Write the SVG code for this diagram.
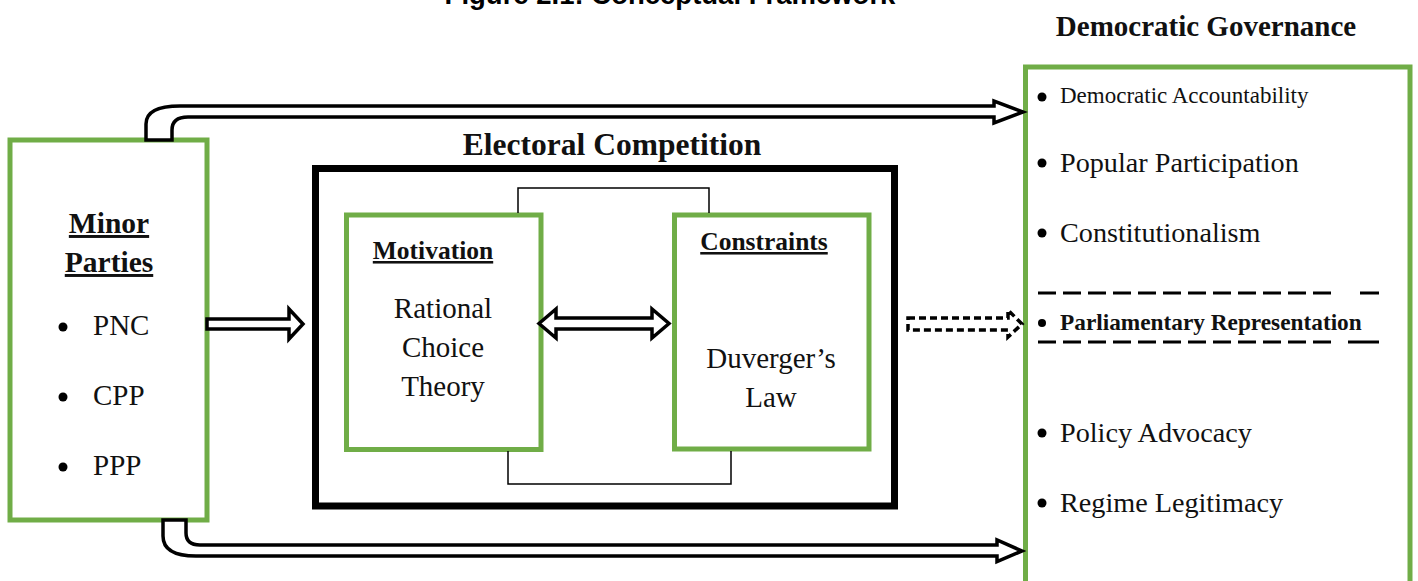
<svg xmlns="http://www.w3.org/2000/svg" width="1418" height="581" viewBox="0 0 1418 581">
<style>
.g{fill:#fff;stroke:#70AD47;stroke-width:5}
.serif{font-family:"Liberation Serif","Times New Roman",serif;fill:#111}
.b{font-weight:bold}
.u{text-decoration:underline}
.arr{fill:#fff;stroke:#000;stroke-width:3.5;stroke-linejoin:miter}
.thin{fill:none;stroke:#000;stroke-width:1.5}
.dot{fill:#000}
</style>
<rect width="1418" height="581" fill="#fff"/>
<text x="670" y="4" text-anchor="middle" font-family="Liberation Sans, Arial, sans-serif" font-weight="bold" font-size="27.5" fill="#000">Figure 2.1: Conceptual Framework</text>

<g id="minor-parties">
<rect class="g" x="10" y="140" width="197" height="380" stroke-width="4.5"/>
<text class="serif b u" x="109" y="233" text-anchor="middle" font-size="29.5">Minor</text>
<text class="serif b u" x="109" y="272" text-anchor="middle" font-size="29.5">Parties</text>
<circle class="dot" cx="63" cy="327" r="4.5"/>
<text class="serif" x="93" y="335" font-size="29">PNC</text>
<circle class="dot" cx="63" cy="397" r="4.5"/>
<text class="serif" x="93" y="405" font-size="29">CPP</text>
<circle class="dot" cx="63" cy="467" r="4.5"/>
<text class="serif" x="93" y="475" font-size="29">PPP</text>
</g>

<g id="electoral-competition">
<text class="serif b" x="612" y="155" text-anchor="middle" font-size="31.5">Electoral Competition</text>
<rect x="315.5" y="168.5" width="579" height="337.5" fill="#fff" stroke="#000" stroke-width="7"/>
</g>

<g id="motivation">
<rect class="g" x="346.5" y="215" width="194.5" height="234.5"/>
<text class="serif b u" x="433" y="259" text-anchor="middle" font-size="25.5">Motivation</text>
<text class="serif" x="443" y="318" text-anchor="middle" font-size="29">Rational</text>
<text class="serif" x="443" y="357" text-anchor="middle" font-size="29">Choice</text>
<text class="serif" x="443" y="396" text-anchor="middle" font-size="29">Theory</text>
</g>

<g id="constraints">
<rect class="g" x="674.5" y="215" width="194.5" height="234"/>
<text class="serif b u" x="764" y="250" text-anchor="middle" font-size="25.5">Constraints</text>
<text class="serif" x="771" y="368" text-anchor="middle" font-size="29">Duverger’s</text>
<text class="serif" x="771" y="407" text-anchor="middle" font-size="29">Law</text>
</g>

<g id="democratic-governance">
<text class="serif b" x="1206" y="36" text-anchor="middle" font-size="29">Democratic Governance</text>
<rect class="g" x="1025.5" y="67" width="384.5" height="530"/>
<circle class="dot" cx="1042" cy="97" r="4.5"/>
<text class="serif" x="1060" y="103" font-size="23">Democratic Accountability</text>
<circle class="dot" cx="1042" cy="163" r="4.5"/>
<text class="serif" x="1060" y="172" font-size="28.2">Popular Participation</text>
<circle class="dot" cx="1042" cy="233" r="4.5"/>
<text class="serif" x="1060" y="242" font-size="28.2">Constitutionalism</text>
<line x1="1038" y1="293" x2="1338" y2="293" stroke="#000" stroke-width="3" stroke-dasharray="18 7"/>
<line x1="1360" y1="293" x2="1379" y2="293" stroke="#000" stroke-width="3"/>
<circle class="dot" cx="1042" cy="323" r="4"/>
<text class="serif b" x="1060" y="330" font-size="23.3">Parliamentary Representation</text>
<line x1="1038" y1="342" x2="1338" y2="342" stroke="#000" stroke-width="3" stroke-dasharray="18 7"/>
<line x1="1348" y1="342" x2="1379" y2="342" stroke="#000" stroke-width="3"/>
<circle class="dot" cx="1042" cy="433" r="4.5"/>
<text class="serif" x="1060" y="442" font-size="28.2">Policy Advocacy</text>
<circle class="dot" cx="1042" cy="503" r="4.5"/>
<text class="serif" x="1060" y="512" font-size="28.2">Regime Legitimacy</text>
</g>

<g id="connectors">
<path class="arr" d="M146 140 L146 124 Q146 106 180 106 L994 106 L994 101 L1023 112 L994 123 L994 117 L188 117 Q172 117 172 130 L172 140 Z"/>
<path class="arr" d="M163 520 L163 536 Q163 556 196 556 L997 556 L997 561.5 L1022 551 L997 540 L997 545 L200 545 Q186 545 186 533 L186 520 Z"/>
<path class="arr" stroke-width="4" d="M207 319 L289 319 L289 309 L303 324 L289 339 L289 329 L207 329 Z"/>
<path class="arr" stroke-width="5" d="M539 323.5 L556 309 L556 318 L652 318 L652 309 L669 323.5 L652 338 L652 329 L556 329 L556 338 Z"/>
<path class="arr" stroke-width="3.5" stroke-dasharray="7 4" d="M908 318 L1008 318 L1008 310 L1022 324 L1008 337 L1008 330 L908 330 Z"/>
<path class="thin" d="M518 213 L518 188 L709 188 L709 213"/>
<path class="thin" d="M508 451 L508 484 L731 484 L731 451"/>
</g>
</svg>
